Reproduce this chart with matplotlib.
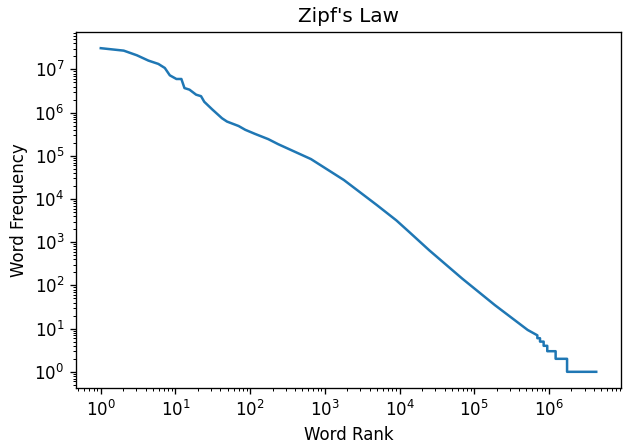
import matplotlib
matplotlib.use("Agg")
import matplotlib.pyplot as plt

# Values (word rank, word frequency)
rank = [1, 2.03, 3.05, 4.34, 5.9, 7.2, 8.4, 10.3, 12, 13.2, 15.4, 18.9, 22, 24.3,
        31, 42, 49, 70, 86, 117, 175, 237, 652, 1800, 4940, 9070,
        1.36e4, 2.5e4, 6.9e4, 1.89e5, 5.2e5,
        7.0e5, 7.0e5, 7.6e5, 7.6e5, 8.5e5, 8.5e5, 9.5e5, 9.5e5, 1.23e6, 1.23e6,
        1.75e6, 1.75e6, 4.3e6]
freq = [3.1e7, 2.72e7, 2.12e7, 1.6e7, 1.34e7, 1.08e7, 7.3e6, 6.0e6, 6.0e6, 3.7e6,
        3.4e6, 2.6e6, 2.4e6, 1.78e6, 1.19e6, 7.4e5, 6.2e5, 4.9e5, 4.0e5, 3.2e5,
        2.43e5, 1.86e5, 8.4e4, 2.75e4, 7.3e3, 3.2e3,
        1.7e3, 650, 144, 35, 9.3,
        7, 6, 6, 5, 5, 4, 4, 3, 3, 2,
        2, 1, 1]

DPI = 120
fig = plt.figure(figsize=(623 / DPI, 447 / DPI), dpi=DPI)
ax = fig.add_axes([76/623, 59/447, 545/623, 356/447])
ax.plot(rank, freq)
ax.set_xscale("log")
ax.set_yscale("log")
ax.set_title("Zipf's Law")
ax.set_xlabel("Word Rank")
ax.set_ylabel("Word Frequency")
fig.savefig("out.png", dpi=DPI)
